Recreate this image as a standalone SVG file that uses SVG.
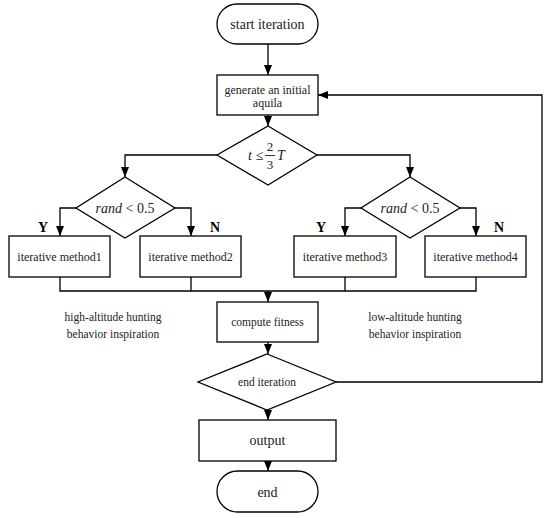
<svg xmlns="http://www.w3.org/2000/svg" width="550" height="518" viewBox="0 0 550 518">
<style>
.s{fill:#fff;stroke:#000;stroke-width:1.3}
.c{fill:none;stroke:#000;stroke-width:1.3}
text{font-family:"Liberation Serif","Times New Roman",serif;fill:#222;text-anchor:middle}
.t{font-size:12px}
.b{font-size:14px;font-weight:bold;fill:#000}
.i{font-style:italic}
</style>
<defs>
<marker id="ah" markerUnits="userSpaceOnUse" markerWidth="10" markerHeight="10" viewBox="0 0 10 10" refX="10" refY="5" orient="auto">
<path d="M0,1 L10,5 L0,9 Z" fill="#000"/>
</marker>
</defs>
<rect width="550" height="518" fill="#fff"/>
<g id="connectors">
<path class="c" d="M268,44 V75" marker-end="url(#ah)"/>
<path class="c" d="M268,115 V126" marker-end="url(#ah)"/>
<path class="c" d="M217,155 H125 V177" marker-end="url(#ah)"/>
<path class="c" d="M317,155 H410 V177" marker-end="url(#ah)"/>
<path class="c" d="M76,208 H60 V236" marker-end="url(#ah)"/>
<path class="c" d="M175,208 H191 V236" marker-end="url(#ah)"/>
<path class="c" d="M361,208 H345 V236" marker-end="url(#ah)"/>
<path class="c" d="M460,208 H476 V236" marker-end="url(#ah)"/>
<path class="c" d="M60,277 V291 H476 V277 M191,277 V291 M345,277 V291"/>
<path class="c" d="M268,291 V302" marker-end="url(#ah)"/>
<path class="c" d="M268,342 V354" marker-end="url(#ah)"/>
<path class="c" d="M336,382 H542 V95 H318" marker-end="url(#ah)"/>
<path class="c" d="M268,410 V420" marker-end="url(#ah)"/>
<path class="c" d="M268,461 V471" marker-end="url(#ah)"/>
</g>
<g id="start">
<rect class="s" x="217" y="4" width="101" height="40" rx="20"/>
<text x="267.5" y="29" font-size="14">start iteration</text>
</g>
<g id="generate">
<rect class="s" x="217" y="75" width="101" height="40"/>
<text class="t" x="267.5" y="94" font-size="11.5">generate an initial</text>
<text class="t" x="267.5" y="107" font-size="11.5">aquila</text>
</g>
<g id="cond-t">
<polygon class="s" points="268,126 317,155 268,185 217,155"/>
<text x="250" y="160" font-size="14" class="i">t</text>
<text x="259.5" y="160" font-size="14">≤</text>
<text x="270" y="151" font-size="13">2</text>
<line x1="265" y1="155.5" x2="275" y2="155.5" stroke="#000" stroke-width="0.8"/>
<text x="270" y="169" font-size="13">3</text>
<text x="281" y="160" font-size="14" class="i">T</text>
</g>
<g id="cond-left">
<polygon class="s" points="125,177 175,208 125,238 76,208"/>
<text x="125" y="213" font-size="14"><tspan class="i">rand</tspan> &lt; 0.5</text>
</g>
<g id="cond-right">
<polygon class="s" points="410,177 460,208 410,238 361,208"/>
<text x="410" y="213" font-size="14"><tspan class="i">rand</tspan> &lt; 0.5</text>
</g>
<g id="labels-yn">
<text class="b" x="43" y="232">Y</text>
<text class="b" x="215" y="232">N</text>
<text class="b" x="321" y="232">Y</text>
<text class="b" x="499" y="232">N</text>
</g>
<g id="method1">
<rect class="s" x="9" y="236" width="101" height="41"/>
<text class="t" x="59.5" y="261">iterative method1</text>
</g>
<g id="method2">
<rect class="s" x="140" y="236" width="101" height="41"/>
<text class="t" x="190.5" y="261">iterative method2</text>
</g>
<g id="method3">
<rect class="s" x="294" y="236" width="102" height="41"/>
<text class="t" x="345" y="261">iterative method3</text>
</g>
<g id="method4">
<rect class="s" x="425" y="236" width="101" height="41"/>
<text class="t" x="475.5" y="261">iterative method4</text>
</g>
<g id="note-high">
<text x="113" y="321" font-size="11.5">high-altitude hunting</text>
<text x="113" y="338" font-size="11.5">behavior inspiration</text>
</g>
<g id="note-low">
<text x="415" y="321" font-size="11.5">low-altitude hunting</text>
<text x="415" y="338" font-size="11.5">behavior inspiration</text>
</g>
<g id="fitness">
<rect class="s" x="217" y="302" width="101" height="40"/>
<text x="267.5" y="326" font-size="11.5">compute fitness</text>
</g>
<g id="end-iteration">
<polygon class="s" points="267,354 336,382 267,410 198,382"/>
<text x="267" y="386" font-size="11.5">end iteration</text>
</g>
<g id="output">
<rect class="s" x="199" y="420" width="137" height="41"/>
<text x="267.5" y="445" font-size="14">output</text>
</g>
<g id="end">
<rect class="s" x="217" y="471" width="101" height="41" rx="20.5"/>
<text x="267.5" y="497" font-size="14">end</text>
</g>
</svg>
